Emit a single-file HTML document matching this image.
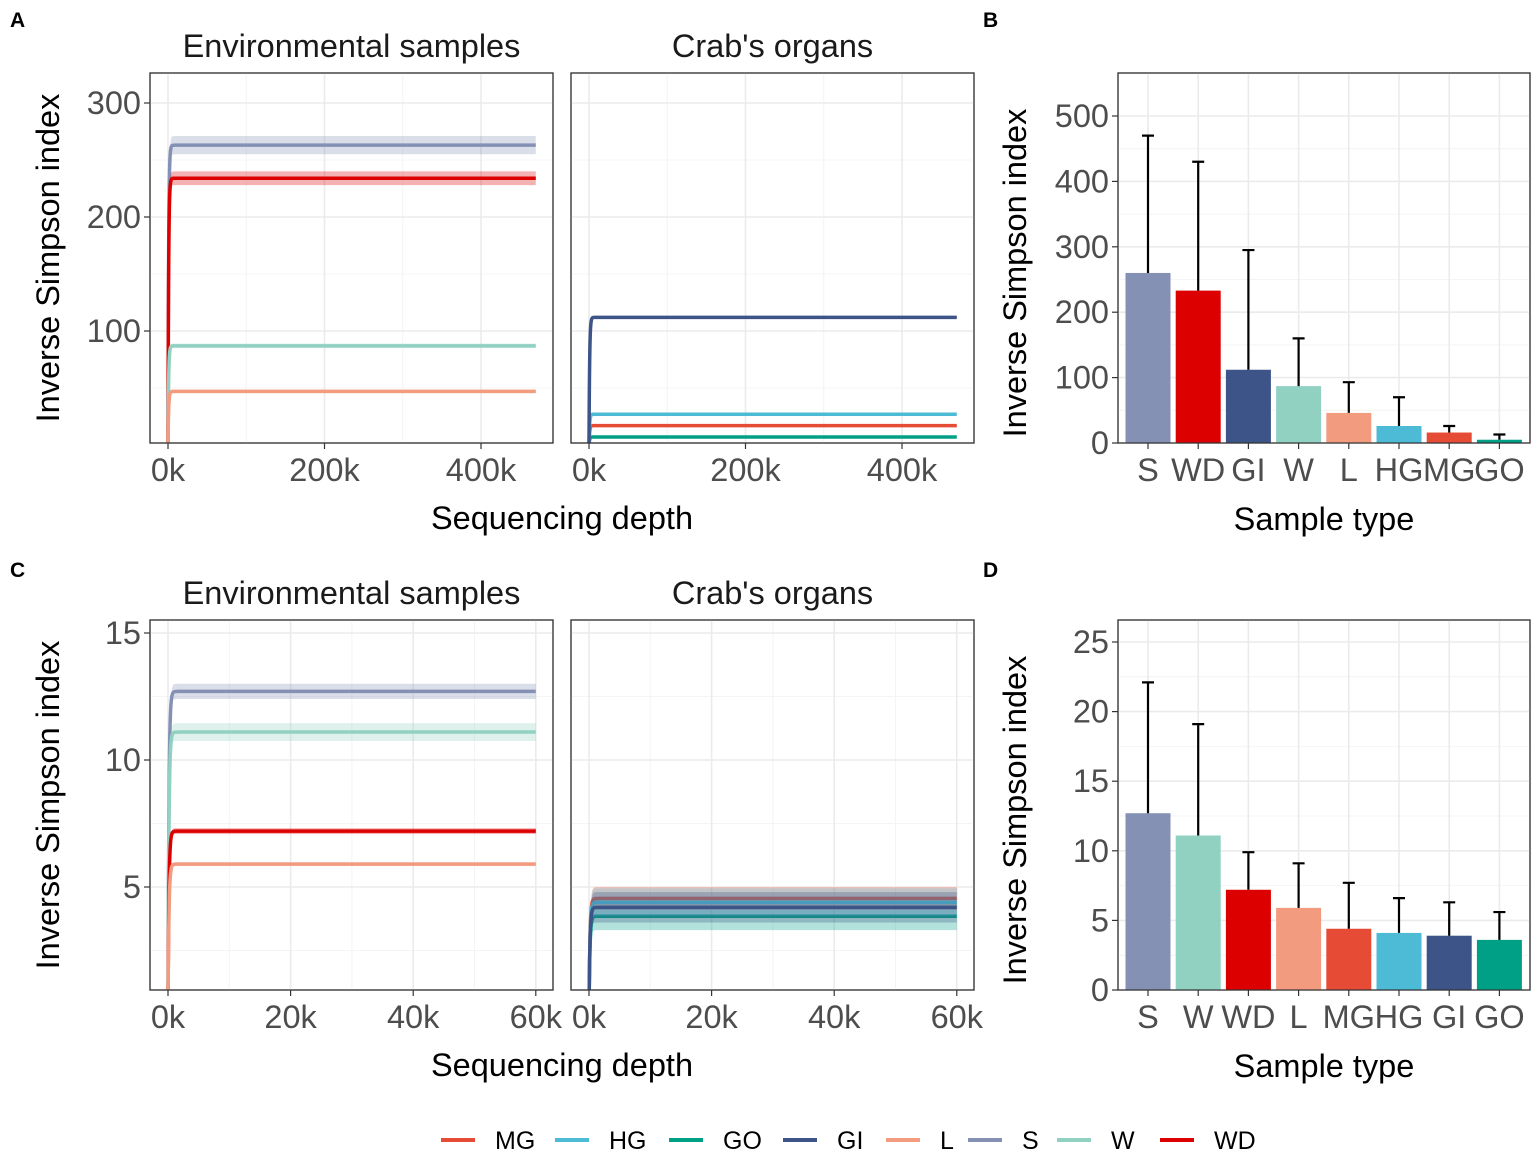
<!DOCTYPE html>
<html><head><meta charset="utf-8">
<style>
body{margin:0;background:#fff;}
svg{display:block;font-family:"Liberation Sans",Arial,sans-serif;}
</style></head>
<body>
<svg id="fig" width="1535" height="1155" viewBox="0 0 1535 1155" xmlns="http://www.w3.org/2000/svg">
<rect width="1535" height="1155" fill="#fff"/>
<g id="root"></g>
</svg>
<script>
// ---- data ----
const groupsA_env = ["S","WD","W","L"];
const valuesA_env = [263,234,87,47];
const bandA_env = [8,6,2,1.5];
const groupsA_crab = ["GO","MG","HG","GI"];
const valuesA_crab = [7,17,27,112];
const bandA_crab = [0.5,0.5,0.5,1];
const maxDepthA = 470;
const groupsC_env = ["S","W","WD","L"];
const valuesC_env = [12.7,11.1,7.2,5.9];
const bandC_env = [0.3,0.35,0.12,0.08];
const groupsC_crab = ["GO","MG","HG","GI"];
const valuesC_crab = [3.85,4.55,4.4,4.2];
const bandC_crab = [0.55,0.45,0.55,0.6];
const maxDepthC = 60;
const catsB = ["S","WD","GI","W","L","HG","MG","GO"];
const meansB = [260,233,112,87,46,26,16,5];
const errB = [470,430,295,160,93,70,26,13];
const catsD = ["S","W","WD","L","MG","HG","GI","GO"];
const meansD = [12.7,11.1,7.2,5.9,4.4,4.1,3.9,3.6];
const errD = [22.1,19.1,9.9,9.1,7.7,6.6,6.3,5.6];
const legendKeys = ["MG","HG","GO","GI","L","S","W","WD"];
const colors = {MG:"#e64b35",HG:"#4dbbd5",GO:"#00a087",GI:"#3c5488",L:"#f39b7f",S:"#8491b4",W:"#91d1c2",WD:"#dc0000"};

const NS="http://www.w3.org/2000/svg";
const root=document.getElementById('root');
const TF=32.5;
function el(tag,attrs,parent,text){const e=document.createElementNS(NS,tag);for(const k in attrs)e.setAttribute(k,attrs[k]);if(text!==undefined)e.textContent=text;(parent||root).appendChild(e);return e;}

function panelFrame(x0,y0,x1,y1,name){
  const r=el('rect',{x:x0,y:y0,width:x1-x0,height:y1-y0,fill:'#fff',stroke:'#333','stroke-width':1.2});
  
  
}
function grid(x0,y0,x1,y1,xs,ys,minorX,minorY){
  const g=el('g',{});
  
  
  minorX.forEach(x=>el('line',{x1:x,x2:x,y1:y0,y2:y1,stroke:'#f4f4f4','stroke-width':1},g));
  minorY.forEach(y=>el('line',{x1:x0,x2:x1,y1:y,y2:y,stroke:'#f4f4f4','stroke-width':1},g));
  xs.forEach(x=>el('line',{x1:x,x2:x,y1:y0,y2:y1,stroke:'#ebebeb','stroke-width':1.6},g));
  ys.forEach(y=>el('line',{x1:x0,x2:x1,y1:y,y2:y,stroke:'#ebebeb','stroke-width':1.6},g));
}
function yTicks(x0,ticks,fy,labels){
  ticks.forEach((t,i)=>{
    const y=fy(t);
    el('line',{x1:x0-6,x2:x0,y1:y,y2:y,stroke:'#333','stroke-width':1.2});
    const tx=el('text',{x:x0-9,y:y+11,'text-anchor':'end','font-size':TF,fill:'#4d4d4d'},root,labels[i]);
    
    
  });
}
function xTicks(y1,ticks,fx,labels){
  ticks.forEach((t,i)=>{
    const x=fx(t);
    el('line',{x1:x,x2:x,y1:y1,y2:y1+6,stroke:'#333','stroke-width':1.2});
    const tx=el('text',{x:x,y:y1+38,'text-anchor':'middle','font-size':TF,fill:'#4d4d4d'},root,labels[i]);
    
    
  });
}
function text(x,y,s,size,name,opts){
  const t=el('text',Object.assign({x:x,y:y,'font-size':size,fill:'#000'},opts||{}),root,s);
  
  
  return t;
}
function curvePanel(x0,y0,x1,y1,fx,fy,groups,vals,bands,maxD,kRise,clipId){
  const cp=el('clipPath',{id:clipId});el('rect',{x:x0,y:y0,width:x1-x0,height:y1-y0},cp);
  const g=el('g',{'clip-path':'url(#'+clipId+')'});
  groups.forEach((gname,i)=>{
    const v=vals[i],b=bands[i];
    const N=200;const pts=[],up=[],lo=[];
    for(let j=0;j<=N;j++){const d=maxD*Math.pow(j/N,2);const f=1-Math.exp(-d/kRise);
      pts.push([fx(d),fy(v*f)]);up.push([fx(d),fy((v+b)*f)]);lo.push([fx(d),fy((v-b)*f)]);}
    const band=el('path',{d:'M'+up.map(p=>p.join(',')).join('L')+'L'+lo.reverse().map(p=>p.join(',')).join('L')+'Z',fill:colors[gname],'fill-opacity':0.3},g);
    
    
    const ln=el('path',{d:'M'+pts.map(p=>p.join(',')).join('L'),fill:'none',stroke:colors[gname],'stroke-width':3.5},g);
    
    
  });
}

const fyA=v=>445-1.14*v;
const fxA1=d=>168+0.7825*d, fxA2=d=>589+0.7825*d;
function rarePanel(x0,x1,fx,yT,yB,fy,yticks,ylabels,yminor,xticks,xlabels,xminor,groups,vals,bands,maxD,k,title,clip,showY){
  panelFrame(x0,yT,x1,yB,'panel-'+clip);
  grid(x0,yT,x1,yB,xticks.map(fx),yticks.map(fy),xminor.map(fx),yminor.map(fy));
  curvePanel(x0,yT,x1,yB,fx,fy,groups,vals,bands,maxD,k,clip);
  el('rect',{x:x0,y:yT,width:x1-x0,height:yB-yT,fill:'none',stroke:'#333','stroke-width':1.2});
  if(showY) yTicks(x0,yticks,fy,ylabels);
  xTicks(yB,xticks,fx,xlabels);
  text((x0+x1)/2,yT-16,title,TF,'facet-title',{'text-anchor':'middle','fill':'#1a1a1a'});
}
rarePanel(150,553,fxA1,73,443,fyA,[100,200,300],["100","200","300"],[50,150,250],[0,200,400],["0k","200k","400k"],[100,300],groupsA_env,valuesA_env,bandA_env,maxDepthA,0.8,"Environmental samples",'a-env',true);
rarePanel(571,974,fxA2,73,443,fyA,[100,200,300],["100","200","300"],[50,150,250],[0,200,400],["0k","200k","400k"],[100,300],groupsA_crab,valuesA_crab,bandA_crab,maxDepthA,0.8,"Crab's organs",'a-crab',false);
text(562,529,"Sequencing depth",TF,'x-axis-title-a',{'text-anchor':'middle'});
text(59,258,"Inverse Simpson index",TF,'y-axis-title-a',{'text-anchor':'middle',transform:'rotate(-90 59 258)'});
text(10,27,"A",21,'panel-label-a',{'font-weight':'bold'});

const fyC=v=>1014-25.4*v;
const fxC1=d=>168+6.13*d, fxC2=d=>589+6.13*d;
rarePanel(150,553,fxC1,620,990,fyC,[5,10,15],["5","10","15"],[2.5,7.5,12.5],[0,20,40,60],["0k","20k","40k","60k"],[10,30,50],groupsC_env,valuesC_env,bandC_env,maxDepthC,0.15,"Environmental samples",'c-env',true);
rarePanel(571,974,fxC2,620,990,fyC,[5,10,15],["5","10","15"],[2.5,7.5,12.5],[0,20,40,60],["0k","20k","40k","60k"],[10,30,50],groupsC_crab,valuesC_crab,bandC_crab,maxDepthC,0.15,"Crab's organs",'c-crab',false);
text(562,1076,"Sequencing depth",TF,'x-axis-title-c',{'text-anchor':'middle'});
text(59,805,"Inverse Simpson index",TF,'y-axis-title-c',{'text-anchor':'middle',transform:'rotate(-90 59 805)'});
text(10,577,"C",21,'panel-label-c',{'font-weight':'bold'});

function barPanel(yT,yB,fy,yticks,ylabels,yminor,cats,means,errs,clip){
  const x0=1118,x1=1530;
  const fx=i=>1148+50.2*i;
  panelFrame(x0,yT,x1,yB,'panel-'+clip);
  grid(x0,yT,x1,yB,cats.map((c,i)=>fx(i)),yticks.map(fy),[],yminor.map(fy));
  cats.forEach((c,i)=>{
    const x=fx(i),top=fy(means[i]),et=fy(errs[i]);
    const b=el('rect',{x:x-22.5,y:top,width:45,height:fy(0)-top,fill:colors[c]});
    
    
    const eb=el('path',{d:`M${x},${top}V${et}M${x-6},${et}H${x+6}`,stroke:'#000','stroke-width':2.2,fill:'none'});
    
    
  });
  el('rect',{x:x0,y:yT,width:x1-x0,height:yB-yT,fill:'none',stroke:'#333','stroke-width':1.2});
  yTicks(x0,yticks,fy,ylabels);
  xTicks(yB,cats.map((c,i)=>i),fx,cats);
  text(1324,yB+87,"Sample type",TF,'x-axis-title',{'text-anchor':'middle'});
  text(1026,(yT+yB)/2+15,"Inverse Simpson index",TF,'y-axis-title',{'text-anchor':'middle',transform:`rotate(-90 1026 ${(yT+yB)/2+15})`});
}
const fyB=v=>443-0.654*v;
barPanel(73,443,fyB,[0,100,200,300,400,500],["0","100","200","300","400","500"],[50,150,250,350,450],catsB,meansB,errB,'b');
text(983,27,"B",21,'panel-label-b',{'font-weight':'bold'});
const fyD=v=>990-13.92*v;
barPanel(620,990,fyD,[0,5,10,15,20,25],["0","5","10","15","20","25"],[2.5,7.5,12.5,17.5,22.5],catsD,meansD,errD,'d');
text(983,577,"D",21,'panel-label-d',{'font-weight':'bold'});

const legX=[441,555,669,783,886,968,1057,1160];
const lg=el('g',{});


legendKeys.forEach((k,i)=>{
  const l=el('line',{x1:legX[i],x2:legX[i]+34,y1:1140,y2:1140,stroke:colors[k],'stroke-width':4},lg);
  
  
  const t=el('text',{x:legX[i]+54,y:1149,'font-size':25,fill:'#000'},lg,k);
  
  
});
</script>
</body></html>
